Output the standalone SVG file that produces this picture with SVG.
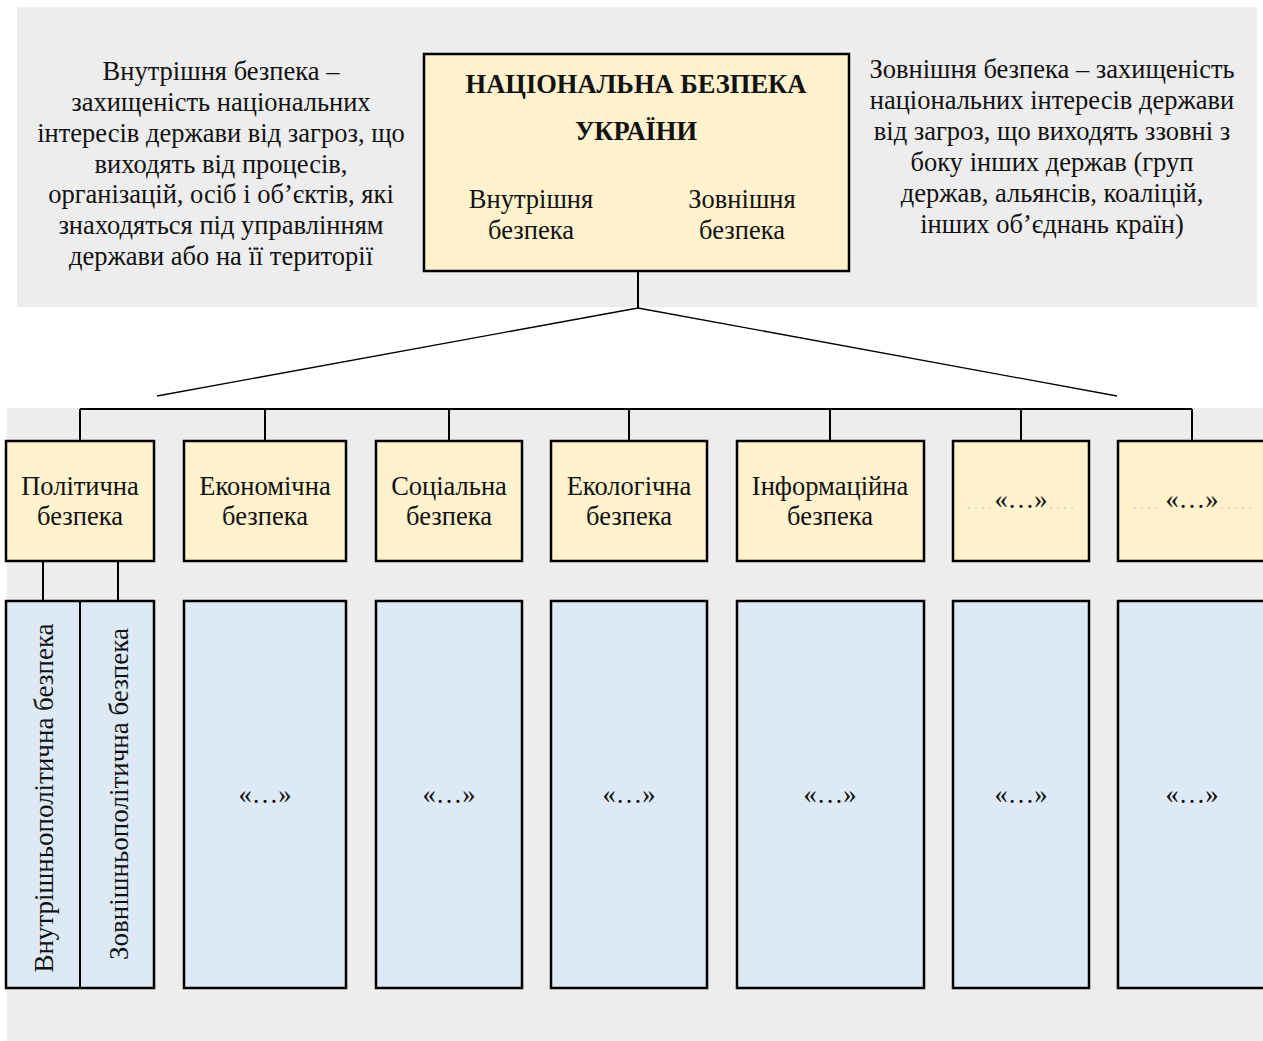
<svg xmlns="http://www.w3.org/2000/svg" width="1263" height="1041" viewBox="0 0 1263 1041">
<style>
text{font-family:"Liberation Serif","Times New Roman",serif;font-size:26.5px;fill:#111;text-anchor:middle}
.b{font-weight:bold}
.v{font-size:27px}
.y{fill:#fff2cc;stroke:#000;stroke-width:2.5}
.bl{fill:#ddeaf6;stroke:#000;stroke-width:2.5}
.c{stroke:#000;stroke-width:2;fill:none}
.t{stroke:#000;stroke-width:1.3;fill:none}
.dots{stroke:#d9d9d9;stroke-width:2;stroke-dasharray:2 5}
</style>
<rect width="1263" height="1041" fill="#fff"/>
<rect x="17" y="7" width="1240" height="300" fill="#ededed"/>
<rect x="7" y="408" width="1256" height="633" fill="#ededed"/>

<g id="desc-left">
<text x="221" y="80">Внутрішня безпека –</text>
<text x="221" y="111">захищеність національних</text>
<text x="221" y="142">інтересів держави від загроз, що</text>
<text x="221" y="173">виходять від процесів,</text>
<text x="221" y="203">організацій, осіб і об’єктів, які</text>
<text x="221" y="234">знаходяться під управлінням</text>
<text x="221" y="265">держави або на її території</text>
</g>
<g id="desc-right">
<text x="1052" y="78">Зовнішня безпека – захищеність</text>
<text x="1052" y="109">національних інтересів держави</text>
<text x="1052" y="140">від загроз, що виходять ззовні з</text>
<text x="1052" y="171">боку інших держав (груп</text>
<text x="1052" y="202">держав, альянсів, коаліцій,</text>
<text x="1052" y="233">інших об’єднань країн)</text>
</g>

<g id="connectors">
<line class="c" x1="638" y1="271" x2="638" y2="308"/>
<line class="t" x1="638" y1="308" x2="157" y2="396"/>
<line class="t" x1="638" y1="308" x2="1117" y2="396"/>
<line class="c" x1="80" y1="409" x2="1192" y2="409"/>
<line class="c" x1="80" y1="409" x2="80" y2="441"/>
<line class="c" x1="265" y1="409" x2="265" y2="441"/>
<line class="c" x1="449" y1="409" x2="449" y2="441"/>
<line class="c" x1="629" y1="409" x2="629" y2="441"/>
<line class="c" x1="830" y1="409" x2="830" y2="441"/>
<line class="c" x1="1021" y1="409" x2="1021" y2="441"/>
<line class="c" x1="1192" y1="409" x2="1192" y2="441"/>
<line class="c" x1="43" y1="561" x2="43" y2="601"/>
<line class="c" x1="118" y1="561" x2="118" y2="601"/>
</g>

<g id="national">
<rect class="y" x="424" y="54" width="425" height="217"/>
<text class="b" x="636" y="93">НАЦІОНАЛЬНА БЕЗПЕКА</text>
<text class="b" x="636" y="140">УКРАЇНИ</text>
<text x="531" y="208">Внутрішня</text>
<text x="531" y="239">безпека</text>
<text x="742" y="208">Зовнішня</text>
<text x="742" y="239">безпека</text>
</g>

<g id="n-political">
<rect class="y" x="6" y="441" width="148" height="120"/>
<text x="80" y="495">Політична</text>
<text x="80" y="525">безпека</text>
</g>
<g id="n-economic">
<rect class="y" x="184" y="441" width="162" height="120"/>
<text x="265" y="495">Економічна</text>
<text x="265" y="525">безпека</text>
</g>
<g id="n-social">
<rect class="y" x="376" y="441" width="146" height="120"/>
<text x="449" y="495">Соціальна</text>
<text x="449" y="525">безпека</text>
</g>
<g id="n-ecological">
<rect class="y" x="551" y="441" width="156" height="120"/>
<text x="629" y="495">Екологічна</text>
<text x="629" y="525">безпека</text>
</g>
<g id="n-information">
<rect class="y" x="737" y="441" width="187" height="120"/>
<text x="830" y="495">Інформаційна</text>
<text x="830" y="525">безпека</text>
</g>
<g id="n-other1">
<rect class="y" x="953" y="441" width="136" height="120"/>
<line class="dots" x1="968" y1="508" x2="993" y2="508"/>
<line class="dots" x1="1050" y1="508" x2="1075" y2="508"/>
<text x="1021" y="508">«…»</text>
</g>
<g id="n-other2">
<rect class="y" x="1118" y="441" width="150" height="120"/>
<line class="dots" x1="1134" y1="508" x2="1163" y2="508"/>
<line class="dots" x1="1221" y1="508" x2="1256" y2="508"/>
<text x="1192" y="508">«…»</text>
</g>

<g id="s-political">
<rect class="bl" x="6" y="601" width="148" height="387"/>
<line class="c" x1="80" y1="601" x2="80" y2="988"/>
<text class="v" transform="translate(53 798) rotate(-90)">Внутрішньополітична безпека</text>
<text class="v" transform="translate(128 794) rotate(-90)">Зовнішньополітична безпека</text>
</g>
<g id="s-economic">
<rect class="bl" x="184" y="601" width="162" height="387"/>
<text x="265" y="803">«…»</text>
</g>
<g id="s-social">
<rect class="bl" x="376" y="601" width="146" height="387"/>
<text x="449" y="803">«…»</text>
</g>
<g id="s-ecological">
<rect class="bl" x="551" y="601" width="156" height="387"/>
<text x="629" y="803">«…»</text>
</g>
<g id="s-information">
<rect class="bl" x="737" y="601" width="187" height="387"/>
<text x="830" y="803">«…»</text>
</g>
<g id="s-other1">
<rect class="bl" x="953" y="601" width="136" height="387"/>
<text x="1021" y="803">«…»</text>
</g>
<g id="s-other2">
<rect class="bl" x="1118" y="601" width="150" height="387"/>
<text x="1192" y="803">«…»</text>
</g>
</svg>
